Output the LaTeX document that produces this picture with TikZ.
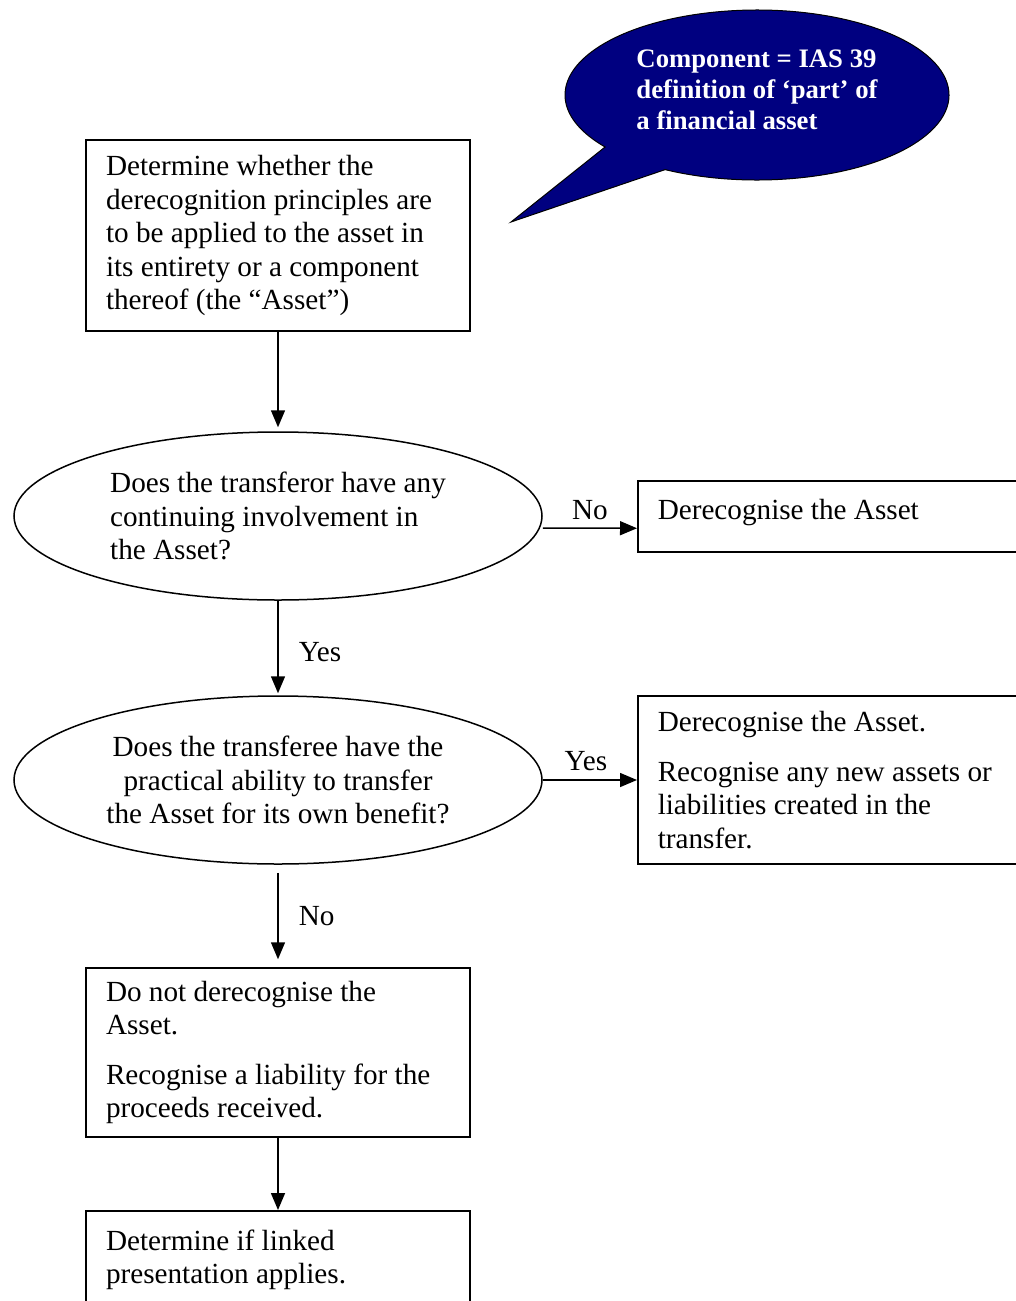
\documentclass[tikz,border=0pt]{standalone}
\usepackage{fontspec}
\setmainfont{Liberation Serif}
\usetikzlibrary{shapes.geometric,arrows.meta}
\definecolor{calloutblue}{RGB}{0,0,128}
\begin{document}
\begin{tikzpicture}[x=1pt, y=1pt,
    box/.style={draw, line width=1.5pt, rectangle, align=flush left, inner xsep=20pt, inner ysep=0pt,
        font=\fontsize{29.2}{33.5}\selectfont},
    decision/.style={draw, line width=1.5pt, ellipse, minimum width=528, minimum height=168,
        inner sep=0pt, font=\fontsize{29.2}{33.5}\selectfont},
    arr/.style={line width=1.5pt, -{Triangle[length=17pt, width=14pt]}},
    lbl/.style={inner sep=3pt, font=\fontsize{29.2}{33.5}\selectfont}
]
    % Page frame: the right and bottom boxes run off the edge
    \useasboundingbox (0,0) rectangle (1016,-1301);
    \clip (0,0) rectangle (1016,-1301);

    % Speech bubble with its tail pointing at the first box
    \filldraw[fill=calloutblue, draw=black, line width=1pt]
        (511,-222) -- ([shift={(757,-95)}]241.4:192 and 85)
        arc[start angle=241.4, end angle=577.7, x radius=192, y radius=85] -- cycle;
    \node[align=flush left, text=white, font=\bfseries\fontsize{26.7}{31}\selectfont] (note) at (757,-90)
        {Component = IAS 39\\definition of `part' of\\a financial asset};

    % Main column
    \node[box, minimum width=384, minimum height=191, text width=344] (det) at (278,-235.5)
        {Determine whether the\\derecognition principles are\\to be applied to the asset in\\its entirety or a component\\thereof (the ``Asset'')};
    \node[decision, align=flush left] (q1) at (278,-516)
        {Does the transferor have any\\continuing involvement in\\the Asset?};
    \node[decision, align=flush center] (q2) at (278,-780)
        {Does the transferee have the\\practical ability to transfer\\the Asset for its own benefit?};
    \node[box, minimum width=384, minimum height=169, text width=344] (keep) at (278,-1052.5)
        {Do not derecognise the\\Asset.\\[16pt]Recognise a liability for the\\proceeds received.};
    \node[box, anchor=north, minimum width=384, minimum height=125, text width=344] (link) at (278,-1210)
        {Determine if linked\\presentation applies.\\ \mbox{}};

    % Right column
    \node[box, anchor=north west, minimum width=420, text width=380, text height=39pt, text depth=32pt] (dr) at (637,-480)
        {Derecognise the Asset};
    \node[box, anchor=west, minimum width=420, minimum height=168, text width=380] (rec) at (637,-780)
        {Derecognise the Asset.\\[16pt]Recognise any new assets or\\liabilities created in the\\transfer.};

    % Connectors
    \draw[arr, shorten >=4pt] (det) -- (q1);
    \draw[arr] ([yshift=-12pt]q1.east) -- node[lbl, above, yshift=5pt] {No} ([yshift=-12pt]dr.west);
    \draw[arr, shorten >=2pt] (q1) -- node[lbl, right, xshift=17pt, yshift=-4pt] {Yes} (q2);
    \draw[arr] (q2) -- node[lbl, above, yshift=5pt, xshift=-4pt] {Yes} (rec);
    \draw[arr, shorten <=8pt, shorten >=8pt] (q2) -- node[lbl, right, xshift=17pt] {No} (keep);
    \draw[arr] (keep) -- (link);
\end{tikzpicture}
\end{document}
